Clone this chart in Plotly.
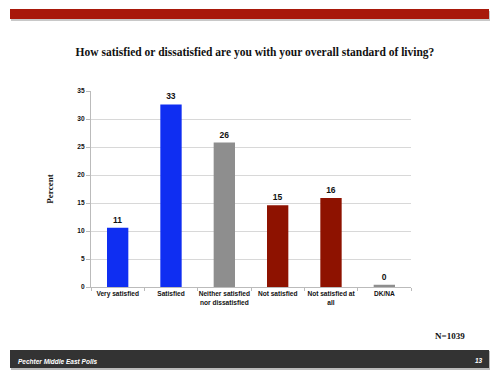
import plotly.graph_objects as go

categories = ["Very satisfied", "Satisfied", "Neither satisfied<br>nor dissatisfied",
              "Not satisfied", "Not satisfied at<br>all", "DK/NA"]
values = [10.6, 32.6, 25.8, 14.6, 15.9, 0.4]
colors = ["#0F2EF2", "#0F2EF2", "#8E8E8E", "#8E1200", "#8E1200", "#8E8E8E"]
y_ticks = [0, 5, 10, 15, 20, 25, 30, 35]

fig = go.Figure()
fig.add_trace(go.Bar(
    x=categories, y=values, marker=dict(color=colors, line=dict(width=0)),
    width=0.4,
    texttemplate="%{y:.0f}", textposition="outside",
    textfont=dict(family="Liberation Sans", size=8.5, color="#111", weight="bold"),
    cliponaxis=False,
))

fig.update_layout(
    width=500, height=380,
    margin=dict(l=91, r=89, t=91, b=93, autoexpand=False),
    paper_bgcolor="white", plot_bgcolor="white",
    showlegend=False,
    title=dict(text="<b>How satisfied or dissatisfied are you with your overall standard of living?</b>",
               x=0.51, xanchor="center", y=1 - 52 / 380, yanchor="middle",
               font=dict(family="Liberation Serif", size=11.5, color="#111")),
    font=dict(family="Liberation Sans", color="#111"),
)
fig.update_xaxes(
    showline=True, linecolor="#BBBBBB", linewidth=1,
    ticks="outside", tickson="boundaries", ticklen=3, tickcolor="#BBBBBB",
    tickangle=0, automargin=False,
    tickfont=dict(family="Liberation Sans", size=6.6, color="#111", weight="bold"),
    showgrid=False,
)
fig.update_yaxes(
    range=[0, 35], tickvals=y_ticks, automargin=False,
    showline=True, linecolor="#BBBBBB", linewidth=1,
    ticks="outside", ticklen=4, tickcolor="#BBBBBB",
    gridcolor="#D8D8D8", gridwidth=1,
    tickfont=dict(family="Liberation Sans", size=6.6, color="#111", weight="bold"),
    title=dict(text="<b>Percent</b>", standoff=22,
               font=dict(family="Liberation Serif", size=9, color="#111")),
    zeroline=False,
)

def px_rect(x0, y0, x1, y1, color):
    # convert pixel coords to paper coords
    pw, ph = 320, 196
    fig.add_shape(type="rect", xref="paper", yref="paper",
                  x0=(x0 - 91) / pw, x1=(x1 - 91) / pw,
                  y0=(287 - y1) / ph, y1=(287 - y0) / ph,
                  fillcolor=color, line=dict(width=0), layer="below")

px_rect(11, 11, 490, 21, "#C8C8C8")
px_rect(10, 9, 489, 19, "#A8180A")
px_rect(11, 351, 490, 370, "#BBBBBB")
px_rect(10, 350, 489, 368, "#333333")

def px_text(x, y, text, size, family, color, anchor="left", italic=False):
    fig.add_annotation(xref="paper", yref="paper",
                       x=(x - 91) / 320, y=(287 - y) / 196,
                       text=text, showarrow=False, xanchor=anchor, yanchor="middle",
                       font=dict(family=family, size=size, color=color,
                                 style="italic" if italic else "normal"))

px_text(16, 361, "<b>Pechter Middle East Polls</b>", 6.5, "Liberation Sans", "white", italic=True)
px_text(485, 360, "<b>13</b>", 6.5, "Liberation Sans", "white", anchor="right", italic=True)
px_text(467, 336, "<b>N=1039</b>", 9, "Liberation Serif", "#111", anchor="right")

fig.write_html("out.html", config={"displayModeBar": False},
               post_script="document.body.style.margin='0px';")
